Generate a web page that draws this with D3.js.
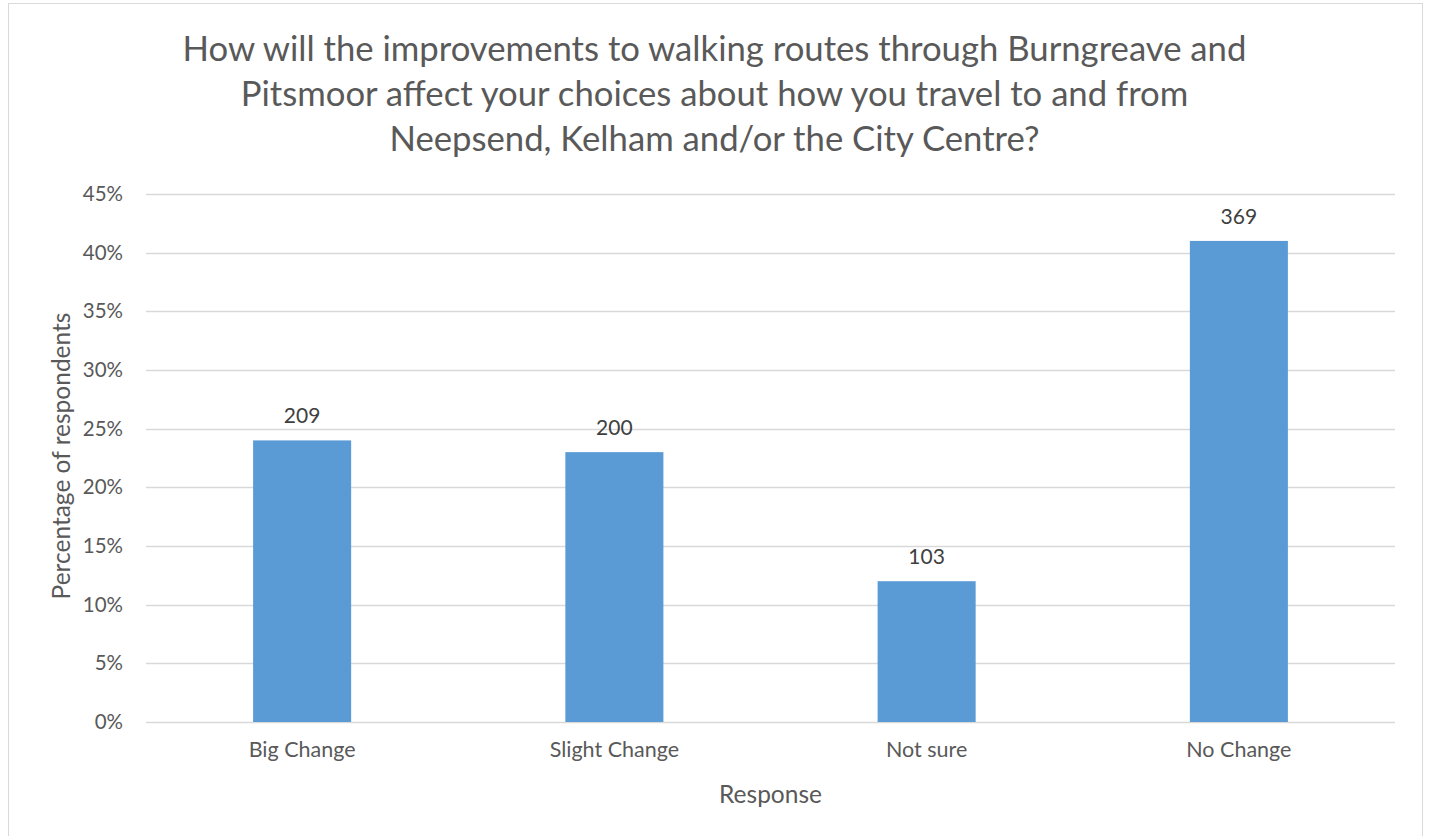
<!DOCTYPE html>
<html>
<head>
<meta charset="utf-8">
<script src="https://cdn.jsdelivr.net/npm/d3@7"></script>
<style>
  body { margin: 0; background: #fff; }
  text { font-family: Lato, "Open Sans", sans-serif; }
</style>
</head>
<body>
<div id="chart"></div>
<script>
const categories = ["Big Change", "Slight Change", "Not sure", "No Change"];
const percents = [24, 23, 12, 41];
const counts = [209, 200, 103, 369];
const yTicks = [0, 5, 10, 15, 20, 25, 30, 35, 40, 45];
const titleLines = [
    "How will the improvements to walking routes through Burngreave and",
    "Pitsmoor affect your choices about how you travel to and from",
    "Neepsend, Kelham and/or the City Centre?"
];

const width = 1429;
const height = 836;
const margin = {top: 194, right: 34, bottom: 114, left: 146};

const svg = d3.select("#chart")
    .append("svg")
    .attr("width", width)
    .attr("height", height);

// chart border
svg.append("rect")
    .attr("x", 8.5)
    .attr("y", 3.5)
    .attr("width", 1414)
    .attr("height", 850)
    .attr("fill", "#fff")
    .attr("stroke", "#d9d9d9")
    .attr("stroke-width", 1);

const x = d3.scaleBand()
    .domain(categories)
    .range([margin.left, width - margin.right])
    .padding(0);

const y = d3.scaleLinear()
    .domain([0, 45])
    .range([height - margin.bottom, margin.top]);

// gridlines
svg.append("g")
    .selectAll("line")
    .data(yTicks)
    .join("line")
    .attr("x1", margin.left)
    .attr("x2", width - margin.right)
    .attr("y1", d => Math.round(y(d)) + 0.5)
    .attr("y2", d => Math.round(y(d)) + 0.5)
    .attr("stroke", "#d9d9d9")
    .attr("stroke-width", 1.3);

// y axis labels
const yAxis = d3.axisLeft(y)
    .tickValues(yTicks)
    .tickSize(0)
    .tickPadding(23)
    .tickFormat(d => d + "%");

const yAxisG = svg.append("g")
    .attr("transform", `translate(${margin.left},0)`)
    .call(yAxis);
yAxisG.select(".domain").remove();
yAxisG.selectAll("text")
    .attr("fill", "#595959")
    .style("font-size", "20.5px");

// x axis labels
const xAxis = d3.axisBottom(x)
    .tickSize(0)
    .tickPadding(20);

const xAxisG = svg.append("g")
    .attr("transform", `translate(0,${height - margin.bottom})`)
    .call(xAxis);
xAxisG.select(".domain").remove();
xAxisG.selectAll("text")
    .attr("fill", "#595959")
    .style("font-size", "21.5px");

// bars
const barWidth = x.bandwidth() * 0.314;
svg.append("g")
    .selectAll("rect")
    .data(categories)
    .join("rect")
    .attr("x", (d) => x(d) + (x.bandwidth() - barWidth) / 2)
    .attr("y", (d, i) => y(percents[i]))
    .attr("width", barWidth)
    .attr("height", (d, i) => y(0) - y(percents[i]))
    .attr("fill", "#5b9bd5");

// data labels
svg.append("g")
    .selectAll("text")
    .data(categories)
    .join("text")
    .attr("x", d => x(d) + x.bandwidth() / 2)
    .attr("y", (d, i) => y(percents[i]) - 17)
    .attr("text-anchor", "middle")
    .attr("fill", "#404040")
    .style("font-size", "21px")
    .text((d, i) => counts[i]);

// title
svg.append("text")
    .attr("text-anchor", "middle")
    .attr("fill", "#595959")
    .style("font-size", "34.7px")
    .selectAll("tspan")
    .data(titleLines)
    .join("tspan")
    .attr("x", width / 2)
    .attr("y", (d, i) => 61 + i * 45)
    .text(d => d);

// axis titles
svg.append("text")
    .attr("x", (margin.left + width - margin.right) / 2)
    .attr("y", 803)
    .attr("text-anchor", "middle")
    .attr("fill", "#595959")
    .style("font-size", "24.5px")
    .text("Response");

svg.append("text")
    .attr("transform", `translate(70,${(margin.top + height - margin.bottom) / 2 - 2}) rotate(-90)`)
    .attr("text-anchor", "middle")
    .attr("fill", "#595959")
    .style("font-size", "24.5px")
    .text("Percentage of respondents");
</script>
</body>
</html>
